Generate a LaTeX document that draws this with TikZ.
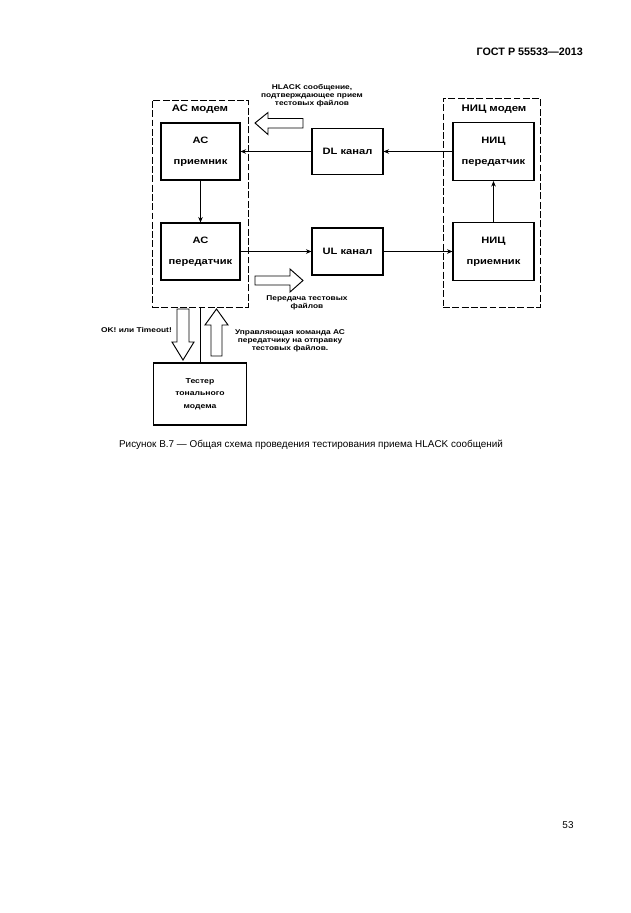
\documentclass[tikz,border=0pt]{standalone}
\usepackage{fontspec}
\setmainfont{Liberation Sans}
\newfontfamily\diagfont[FakeStretch=1.2]{Liberation Sans}
\usetikzlibrary{arrows.meta}

\def\u{0.3333mm}
\tikzset{
  blockbox/.style={draw, line width=1.1pt, align=center, inner sep=0pt,
    font=\diagfont\bfseries\fontsize{8.8}{10}\selectfont},
  modembox/.style={draw, line width=0.9pt, dash pattern=on 2.3mm off 0.8mm},
  link/.style={line width=0.5pt, -{Stealth[length=1.8mm,width=1.5mm]}},
  hollow/.style={draw, line width=0.9pt, fill=white},
  note/.style={align=center, inner sep=0pt,
    font=\diagfont\bfseries\fontsize{6.6}{7.6}\selectfont},
}

\begin{document}
\begin{tikzpicture}[x=0.3333mm, y=-0.3333mm]
		\useasboundingbox (0,0) rectangle (630,913);
		% page header
		\node[anchor=east, inner sep=0pt, font=\bfseries\fontsize{10.2}{12}\selectfont] (header) at (583,52) {ГОСТ Р 55533—2013};
		% modems
		\node[modembox, minimum width=96*\u, minimum height=207*\u] (acmodem) at (200,203.5) {};
		\node[note, font=\diagfont\bfseries\fontsize{9}{10}\selectfont] (acmodemname) at (200,109) {АС модем};
		\node[modembox, minimum width=97*\u, minimum height=209*\u] (nicmodem) at (491.5,202.5) {};
		\node[note, font=\diagfont\bfseries\fontsize{9}{10}\selectfont] (nicmodemname) at (494,109) {НИЦ модем};
		% blocks
		\node[blockbox, minimum width=79*\u, minimum height=57*\u] (acrx) at (200.5,151.5) {АС\\[3.5mm]приемник};
		\node[blockbox, minimum width=79*\u, minimum height=57*\u] (actx) at (200.5,251.5) {АС\\[3.5mm]передатчик};
		\node[blockbox, minimum width=81*\u, minimum height=58*\u] (nictx) at (493.5,151.5) {НИЦ\\[3.5mm]передатчик};
		\node[blockbox, minimum width=81*\u, minimum height=58*\u] (nicrx) at (493.5,251.5) {НИЦ\\[3.5mm]приемник};
		\node[blockbox, minimum width=71*\u, minimum height=46*\u] (dl) at (347.5,151.5) {DL канал};
		\node[blockbox, minimum width=71*\u, minimum height=47*\u] (ul) at (347.5,251.5) {UL канал};
		\node[blockbox, minimum width=93*\u, minimum height=62*\u, font=\diagfont\bfseries\fontsize{6.8}{11.8}\selectfont] (tester) at (200,394) {Тестер\\тонального\\модема};
		% links
		\draw[link] (acrx) -- (actx);
		\draw[link] (nicrx) -- (nictx);
		\draw[link] (nictx) -- (dl);
		\draw[link] (dl) -- (acrx);
		\draw[link] (actx) -- (ul);
		\draw[link] (ul) -- (nicrx);
		\draw[line width=0.5pt] (acmodem.south) -- (tester.north);
		% hollow arrows
		\draw[hollow] (255,123) -- (268,112.5) -- (268,118.5) -- (303,118.5) -- (303,128) -- (268,128) -- (268,134.5) -- cycle;
		\draw[hollow] (303,280.5) -- (290,269) -- (290,276) -- (255,276) -- (255,285) -- (290,285) -- (290,292) -- cycle;
		\draw[hollow] (183,360) -- (172,342) -- (177,342) -- (177,309) -- (189,309) -- (189,342) -- (194,342) -- cycle;
		\draw[hollow] (216.5,309) -- (205,325) -- (211,325) -- (211,356) -- (222,356) -- (222,325) -- (228,325) -- cycle;
		% labels
		\node[note] (hlacknote) at (312,96) {HLACK сообщение,\\подтверждающее прием\\тестовых файлов};
		\node[note] (sendnote) at (307,303) {Передача тестовых\\файлов};
		\node[note, anchor=east] (oknote) at (172,330) {OK! или Timeout!};
		\node[note] (cmdnote) at (290,341) {Управляющая команда АС\\передатчику на отправку\\тестовых файлов.};
		% caption and page number
		\node[inner sep=0pt, font=\fontsize{9.4}{11}\selectfont] (caption) at (311,445) {Рисунок В.7 — Общая схема проведения тестирования приема HLACK сообщений};
		\node[inner sep=0pt, font=\fontsize{9.4}{11}\selectfont] (pagenum) at (568,825) {53};
\end{tikzpicture}
\end{document}
